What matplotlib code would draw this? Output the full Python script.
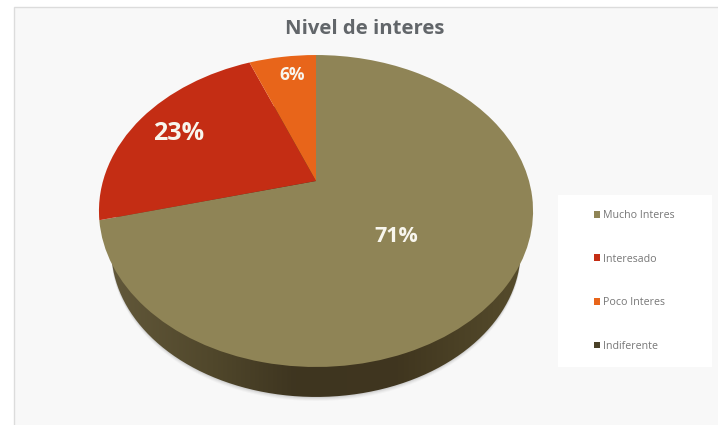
import numpy as np
import matplotlib
matplotlib.use("Agg")
import matplotlib.pyplot as plt
from matplotlib.colors import LinearSegmentedColormap
from matplotlib.patches import Patch, PathPatch, Rectangle
from matplotlib.path import Path
from matplotlib.transforms import Transform

categories = ["Mucho Interes", "Interesado", "Poco Interes", "Indiferente"]
values = [71, 23, 6, 0]
colors = ["#8f8456", "#c42d14", "#e8651a", "#4a4128"]
title = "Nivel de interes"
plt.rcParams["font.family"] = ["Open Sans", "DejaVu Sans"]


class Tilt(Transform):
    """Perspective view of a flat unit disc, in pixel coordinates."""
    input_dims = output_dims = 2
    is_separable = False
    has_inverse = False

    def __init__(self, dy=0.0):
        super().__init__()
        self.dy = dy

    def transform_non_affine(self, xy):
        xy = np.asarray(xy, float)
        u, v = xy[:, 0], xy[:, 1]
        w = 1 + 0.1923 * v
        return np.column_stack([316 + 213 * u / w,
                                (181 - 115.4 * v) / w + self.dy])


fig = plt.figure(figsize=(7.18, 4.25), dpi=100, facecolor="white")
ax = fig.add_axes([0, 0, 1, 1])

ax.add_patch(Rectangle((14, 6.5), 720, 430, fc="#f8f8f8", ec="#dcdcdc", lw=1, zorder=0))

theta = np.linspace(0, 2 * np.pi, 721)
disc = np.column_stack([np.cos(theta), np.sin(theta)])
base = disc * 0.945

# soft shadow under the rim
for d, a in [(46.5, .04), (45.5, .05), (44.5, .07), (43.5, .09)]:
    ax.add_patch(PathPatch(Path(Tilt(d).transform(base)), fc="#555555", ec="none",
                           alpha=a, zorder=1))

# rim with horizontal shading
rim_cmap = LinearSegmentedColormap.from_list(
    "rim", [(0, "#62583a"), (.25, "#50472b"), (.45, "#3e3520"), (.7, "#40361f"), (1, "#564c2c")])
im = ax.imshow(np.linspace(0, 1, 256)[None, :], cmap=rim_cmap, aspect="auto",
               extent=(110, 522, 400, 100), zorder=2)
clip = PathPatch(Path(Tilt(42.5).transform(base)), fc="none", ec="none", transform=ax.transData)
ax.add_patch(clip)
im.set_clip_path(clip)

wedges, _ = ax.pie(values, colors=colors, startangle=90, counterclock=False,
                   radius=1, center=(0, 0), frame=False,
                   wedgeprops={"linewidth": 0})
top = Tilt() + ax.transData
for w in wedges:
    w.set_transform(top)
    w.set_clip_on(False)
    w.set_zorder(3)

ax.set_xlim(0, 718)
ax.set_ylim(425, 0)
ax.set_aspect("auto")
ax.axis("off")

ax.text(365, 29, title, ha="center", va="center", fontsize=14.6, fontweight="bold",
        color="#62666a", zorder=5)

label_xy = [(396, 236), (179, 133), (292, 75)]
label_sizes = [15.5, 18, 12.5]
for v, (x, y), s in zip(values, label_xy, label_sizes):
    ax.text(x, y, f"{v}%", ha="center", va="center", fontsize=s, fontweight="bold",
            color="#f8f6ee", zorder=5)

ax.add_patch(Rectangle((558, 195), 154, 172, fc="white", ec="none", zorder=3.5))
handles = [Patch(fc=c, ec="none") for c in colors]
leg = ax.legend(handles, categories, loc="upper left", bbox_to_anchor=(594, 210),
                bbox_transform=ax.transData, fontsize=7.7, labelcolor="#777777",
                frameon=False,
                handlelength=0.6, handleheight=0.6, handletextpad=0.25,
                labelspacing=3.05, borderpad=0, borderaxespad=0)
leg.set_zorder(4)
leg._legend_box.align = "left"

fig.savefig("out.png", dpi=100)
